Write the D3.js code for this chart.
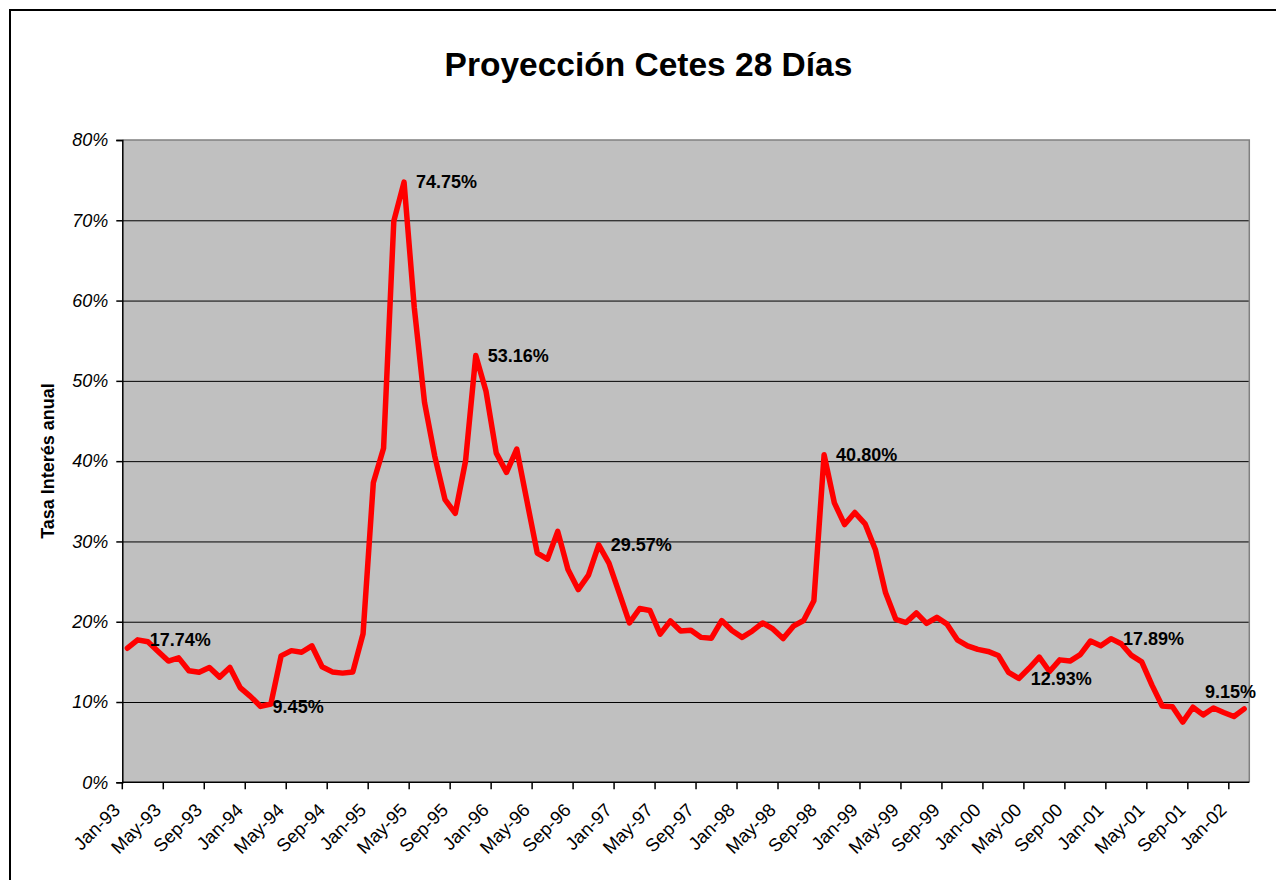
<!DOCTYPE html>
<html>
<head>
<meta charset="utf-8">
<script src="https://cdn.jsdelivr.net/npm/d3@7"></script>
<style>
  body { margin: 0; background: #fff; }
  svg { display: block; font-family: "Liberation Sans", Arial, sans-serif; }
</style>
</head>
<body>
<svg id="chart" width="1276" height="880"></svg>
<script>
// abbreviazioni mesi e anni delle categorie (mensili, Jan-93 .. Feb-02)
const monthNames = ["Jan","Feb","Mar","Apr","May","Jun","Jul","Aug","Sep","Oct","Nov","Dec"];
const years = ["93","94","95","96","97","98","99","00","01","02"];
const monthCount = 110;

// etichette dell'asse X (una ogni 4 mesi)
const tickLabels = ["Jan-93","May-93","Sep-93","Jan-94","May-94","Sep-94","Jan-95","May-95","Sep-95",
  "Jan-96","May-96","Sep-96","Jan-97","May-97","Sep-97","Jan-98","May-98","Sep-98",
  "Jan-99","May-99","Sep-99","Jan-00","May-00","Sep-00","Jan-01","May-01","Sep-01","Jan-02"];

// tasa Cetes 28 días (%)
const rates = [
  16.7, 17.74, 17.5, 16.3, 15.1, 15.5, 13.9, 13.7, 14.3, 13.1, 14.3, 11.8,
  10.7, 9.45, 9.75, 15.75, 16.4, 16.2, 17.0, 14.4, 13.75, 13.6, 13.75, 18.5,
  37.3, 41.6, 69.9, 74.75, 59.1, 47.3, 40.6, 35.2, 33.5, 40.0, 53.16, 48.7,
  41.0, 38.6, 41.5, 35.0, 28.55, 27.8, 31.25, 26.5, 24.0, 25.8, 29.57, 27.3,
  23.6, 19.85, 21.65, 21.4, 18.45, 20.1, 18.85, 18.95, 18.05, 17.95, 20.15, 18.9,
  18.05, 18.85, 19.85, 19.1, 17.9, 19.45, 20.15, 22.6, 40.80, 34.8, 32.1, 33.6,
  32.2, 29.0, 23.6, 20.3, 19.9, 21.1, 19.8, 20.55, 19.7, 17.75, 17.0, 16.55,
  16.3, 15.8, 13.7, 12.93, 14.2, 15.6, 13.8, 15.25, 15.1, 15.9, 17.6, 17.0,
  17.89, 17.25, 15.8, 15.0, 12.1, 9.5, 9.4, 7.5, 9.35, 8.4, 9.25, 8.7,
  8.2, 9.15
];

// indici dei punti con etichetta
const labelIdx = [1, 13, 27, 34, 46, 68, 87, 96, 109];

const yTicks = [0, 10, 20, 30, 40, 50, 60, 70, 80];

const categories = [];
for (let i = 0; i < monthCount; i++) {
  categories.push(monthNames[i % 12] + "-" + years[Math.floor(i / 12)]);
}
const data = rates.map((v, i) => ({ cat: categories[i], v: v }));

const svg = d3.select("#chart");

// bordo del grafico (solo sinistra e sopra visibili)
svg.append("rect")
  .attr("x", 10).attr("y", 10)
  .attr("width", 1320).attr("height", 920)
  .attr("fill", "none").attr("stroke", "#000").attr("stroke-width", 2);

const plotLeft = 122.3, plotRight = 1249.3, plotTop = 140, plotBottom = 782.3;

const x = d3.scaleBand().domain(categories).range([plotLeft, plotRight]).padding(0);
const y = d3.scaleLinear().domain([0, 80]).range([plotBottom, plotTop]);

/* area del grafico */
svg.append("rect")
  .attr("x", plotLeft).attr("y", plotTop)
  .attr("width", plotRight - plotLeft).attr("height", plotBottom - plotTop)
  .attr("fill", "#c0c0c0");

/* griglia */
svg.append("g")
  .attr("transform", `translate(${plotLeft},0)`)
  .call(d3.axisLeft(y).tickValues(yTicks.slice(1, -1)).tickSize(-(plotRight - plotLeft)).tickFormat(""))
  .call(g => g.select(".domain").remove())
  .selectAll("line").attr("stroke", "#000").attr("stroke-width", 1);

/* bordo grigio sopra e destra */
svg.append("path")
  .attr("d", `M${plotLeft},${plotTop}H${plotRight}V${plotBottom}`)
  .attr("fill", "none").attr("stroke", "#808080").attr("stroke-width", 1.5);

/* asse Y */
const yAxis = svg.append("g")
  .attr("transform", `translate(${plotLeft},0)`)
  .call(d3.axisLeft(y).tickValues(yTicks).tickSize(6).tickPadding(8).tickFormat(d => d + "%"));
yAxis.select(".domain").attr("stroke", "#000").attr("stroke-width", 1.5);
yAxis.selectAll("line").attr("stroke", "#000").attr("stroke-width", 1.5);
yAxis.selectAll("text")
  .attr("font-family", "'Liberation Sans', Arial, sans-serif")
  .attr("font-size", 18).attr("font-style", "italic").attr("fill", "#000");

/* asse X: tacche ai bordi delle categorie */
const xAxis = svg.append("g")
  .attr("transform", `translate(${-x.bandwidth() / 2},${plotBottom})`)
  .call(d3.axisBottom(x).tickValues(tickLabels).tickSize(7).tickFormat(""));
xAxis.select(".domain").remove();
xAxis.selectAll("line").attr("stroke", "#000").attr("stroke-width", 1.5);

svg.append("line")
  .attr("x1", plotLeft).attr("x2", plotRight)
  .attr("y1", plotBottom).attr("y2", plotBottom)
  .attr("stroke", "#000").attr("stroke-width", 1.5);

svg.append("g").selectAll("text")
  .data(tickLabels)
  .join("text")
  .attr("transform", d => `translate(${x(d) - 1},${plotBottom + 29}) rotate(-45)`)
  .attr("text-anchor", "end")
  .attr("font-size", 18.5)
  .attr("fill", "#000")
  .text(d => d);

/* linea */
const line = d3.line()
  .x(d => x(d.cat) + x.bandwidth() / 2)
  .y(d => y(d.v));

svg.append("path")
  .datum(data)
  .attr("d", line)
  .attr("fill", "none")
  .attr("stroke", "#ff0000")
  .attr("stroke-width", 5.5)
  .attr("stroke-linejoin", "round")
  .attr("stroke-linecap", "round");

/* etichette dei valori */
labelIdx.forEach(i => {
  const d = data[i];
  const px = x(d.cat) + x.bandwidth() / 2;
  const py = y(d.v);
  const t = svg.append("text")
    .attr("font-size", 18)
    .attr("font-weight", "bold")
    .attr("fill", "#000")
    .text(d.v.toFixed(2) + "%");
  if (i === rates.length - 1) {
    // ultimo punto: sopra, spostato a sinistra per restare nel grafico
    t.attr("x", 1256).attr("y", py - 11).attr("text-anchor", "end");
  } else {
    t.attr("x", px + 12).attr("y", py).attr("dy", "0.35em");
  }
});

/* titolo */
svg.append("text")
  .attr("x", 648.5).attr("y", 76)
  .attr("text-anchor", "middle")
  .attr("font-size", 33.5)
  .attr("font-weight", "bold")
  .text("Proyección Cetes 28 Días");

/* titolo asse Y */
svg.append("text")
  .attr("transform", "translate(54,461) rotate(-90)")
  .attr("text-anchor", "middle")
  .attr("font-size", 18)
  .attr("font-weight", "bold")
  .text("Tasa Interés anual");
</script>
</body>
</html>
